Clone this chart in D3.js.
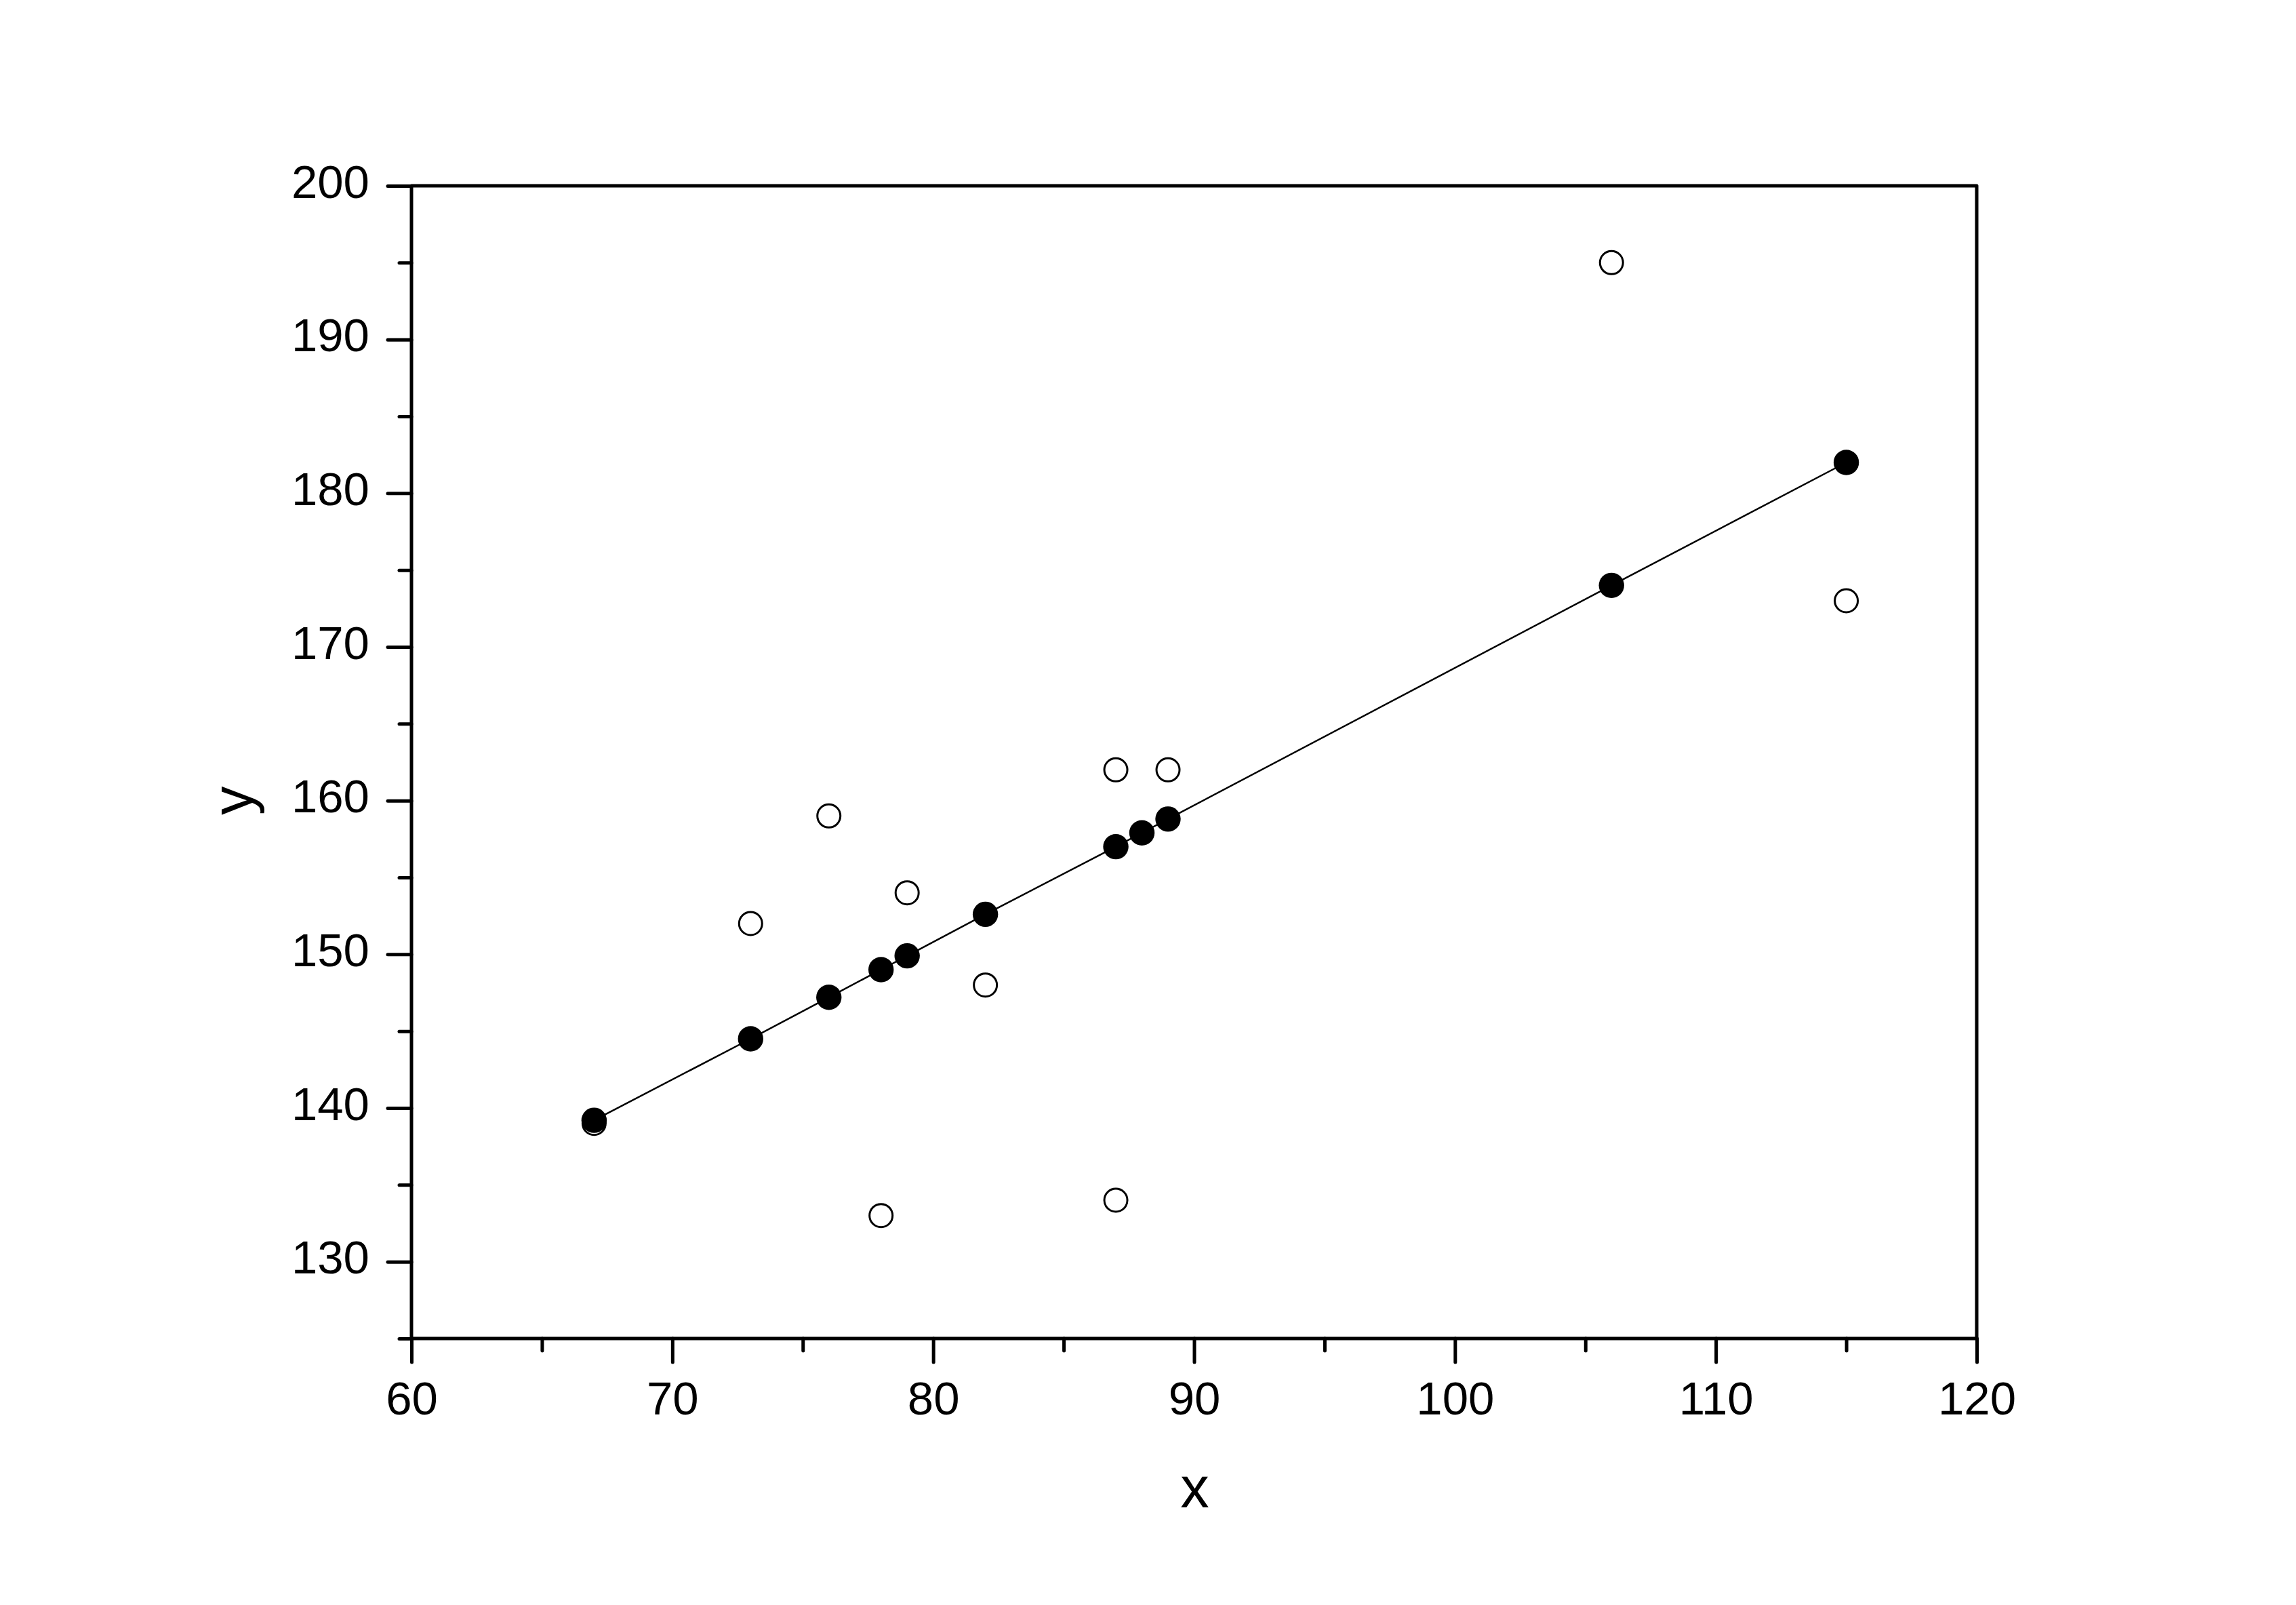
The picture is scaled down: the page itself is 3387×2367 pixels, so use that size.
<!DOCTYPE html>
<html>
<head>
<meta charset="utf-8">
<script src="https://cdn.jsdelivr.net/npm/d3@7"></script>
<style>
  html, body { margin: 0; padding: 0; background: #fff; }
  svg { display: block; }
  text { font-family: "Liberation Sans", Arial, sans-serif; fill: #000; }
</style>
</head>
<body>
<script>
// ---- data ----
const obsX = [67, 73, 76, 78, 79, 82, 87, 87, 89, 106, 115];
const obsY = [139, 152, 159, 133, 154, 148, 162, 134, 162, 195, 173];
const fitX = [67, 73, 76, 78, 79, 82, 87, 88, 89, 106, 115];
const fitY = [139.2, 144.5, 147.2, 149.0, 149.9, 152.6, 157.0, 157.9, 158.8, 174.0, 182.0];
const xMajorTicks = [60, 70, 80, 90, 100, 110, 120];
const xMinorTicks = [65, 75, 85, 95, 105, 115];
const yMajorTicks = [130, 140, 150, 160, 170, 180, 190, 200];
const yMinorTicks = [125, 135, 145, 155, 165, 175, 185, 195];
const xTitle = "x";
const yTitle = "y";

// ---- layout ----
const W = 3387, H = 2367;
const plotL = 607, plotR = 2916, plotT = 274, plotB = 1974;

const svg = d3.select("body").append("svg").attr("width", W).attr("height", H);
svg.append("rect").attr("width", W).attr("height", H).attr("fill", "#fff");

const x = d3.scaleLinear().domain([60, 120]).range([plotL, plotR]);
const y = d3.scaleLinear().domain([125, 200]).range([plotB, plotT]);

const majorLen = 35, minorLen = 18, axW = 5;

function styleAxis(g) {
  g.select(".domain").remove();
  g.selectAll(".tick line").attr("stroke", "#000").attr("stroke-width", axW).attr("stroke-linecap", "round");
  g.selectAll("text").style("font-size", "69px").style("font-family", '"Liberation Sans", Arial, sans-serif').attr("fill", "#000");
}

// x axis major
const gxMaj = svg.append("g").attr("transform", `translate(0,${plotB})`)
  .call(d3.axisBottom(x).tickValues(xMajorTicks).tickSizeInner(majorLen).tickSizeOuter(0).tickFormat(d3.format("d")));
styleAxis(gxMaj);
gxMaj.selectAll("text").attr("dy", null).attr("y", 112);

// x axis minor
const gxMin = svg.append("g").attr("transform", `translate(0,${plotB})`)
  .call(d3.axisBottom(x).tickValues(xMinorTicks).tickSizeInner(minorLen).tickSizeOuter(0).tickFormat(""));
styleAxis(gxMin);

// y axis major
const gyMaj = svg.append("g").attr("transform", `translate(${plotL},0)`)
  .call(d3.axisLeft(y).tickValues(yMajorTicks).tickSizeInner(majorLen).tickSizeOuter(0).tickFormat(d3.format("d")));
styleAxis(gyMaj);
gyMaj.selectAll("text").attr("dy", null).attr("y", 17).attr("x", -62);

// y axis minor
const gyMin = svg.append("g").attr("transform", `translate(${plotL},0)`)
  .call(d3.axisLeft(y).tickValues(yMinorTicks).tickSizeInner(minorLen).tickSizeOuter(0).tickFormat(""));
styleAxis(gyMin);

// frame
svg.append("rect")
  .attr("x", plotL).attr("y", plotT)
  .attr("width", plotR - plotL).attr("height", plotB - plotT)
  .attr("fill", "none").attr("stroke", "#000").attr("stroke-width", axW)
  .attr("stroke-linejoin", "round");

// axis titles
svg.append("text")
  .attr("x", (plotL + plotR) / 2 + 1).attr("y", 2223)
  .attr("text-anchor", "middle")
  .style("font-size", "85px")
  .text(xTitle);

svg.append("text")
  .attr("transform", `translate(372,${y(160)}) rotate(-90)`)
  .attr("text-anchor", "middle")
  .style("font-size", "85px")
  .text(yTitle);

// observed points (open circles)
svg.append("g").selectAll("circle")
  .data(obsX.map((d, i) => [d, obsY[i]]))
  .join("circle")
  .attr("cx", d => x(d[0])).attr("cy", d => y(d[1]))
  .attr("r", 17)
  .attr("fill", "#fff").attr("stroke", "#000").attr("stroke-width", 3);

// fitted line
const fitPts = fitX.map((d, i) => [d, fitY[i]]);
svg.append("path")
  .datum(fitPts)
  .attr("d", d3.line().x(d => x(d[0])).y(d => y(d[1])))
  .attr("fill", "none").attr("stroke", "#000").attr("stroke-width", 2.5);

// fitted points (filled)
svg.append("g").selectAll("circle")
  .data(fitPts)
  .join("circle")
  .attr("cx", d => x(d[0])).attr("cy", d => y(d[1]))
  .attr("r", 18.7)
  .attr("fill", "#000");
</script>
</body>
</html>
